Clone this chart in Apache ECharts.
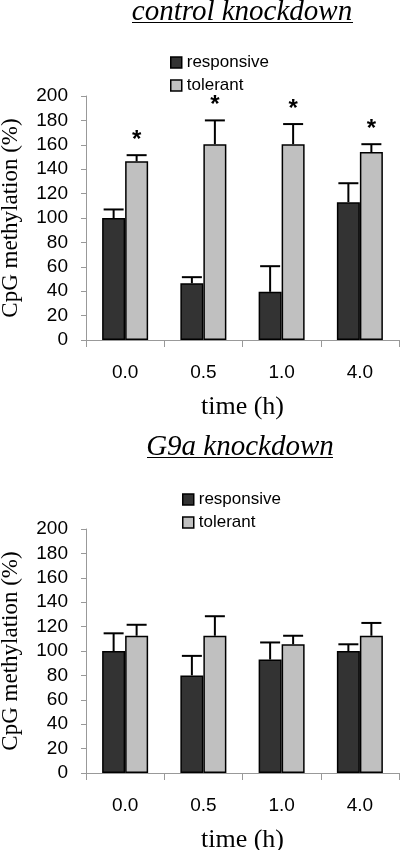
<!DOCTYPE html>
<html>
<head>
<meta charset="utf-8">
<script src="https://cdn.jsdelivr.net/npm/echarts@6/dist/echarts.min.js"></script>
<style>
html,body{margin:0;padding:0;background:#fff;}
#chart{width:400px;height:850px;}
</style>
</head>
<body>
<div id="chart"></div>
<script>
// ---- data ----
const categories = ['0.0', '0.5', '1.0', '4.0'];
const yTicks = [0, 200, 20]; // min, max, interval

const ctrlResponsive = [100, 46.5, 39.5, 113];
const ctrlResponsiveSD = [7, 5, 21, 15.5];
const ctrlTolerant = [146.5, 160.5, 160.5, 154];
const ctrlTolerantSD = [5, 19.5, 16.5, 6.5];
const ctrlSignificant = [1, 1, 1, 1];

const g9aResponsive = [100, 80, 93, 100];
const g9aResponsiveSD = [14.5, 16, 14, 5.5];
const g9aTolerant = [112.5, 112.5, 105.5, 112.5];
const g9aTolerantSD = [9, 16, 7, 10.5];
const g9aSignificant = [0, 0, 0, 0];

const titles = ['control knockdown', 'G9a knockdown'];
const seriesNames = ['responsive', 'tolerant'];
const xTitle = 'time (h)';
const yTitle = 'CpG methylation (%)';

// ---- styles ----
const SANS = '"Liberation Sans", Arial, sans-serif';
const SERIF = '"Liberation Serif", "Times New Roman", serif';
const DARK = '#333333';
const LIGHT = '#c0c0c0';
const AXIS = '#999999';
const BAR_W = 23;

function errorSeries(gridIdx, vals, sds, sig, offset) {
  return {
    type: 'custom',
    xAxisIndex: gridIdx, yAxisIndex: gridIdx,
    z: 5,
    data: vals.map((v, i) => [i, v, sds[i], sig ? sig[i] : 0]),
    renderItem: function (params, api) {
      const i = api.value(0), v = api.value(1), sd = api.value(2), s = api.value(3);
      const b = api.coord([i, v]);
      const t = api.coord([i, v + sd]);
      const x = b[0] + offset;
      const children = [
        { type: 'line', shape: { x1: x, y1: b[1], x2: x, y2: t[1] }, style: { stroke: '#000', lineWidth: 2 } },
        { type: 'line', shape: { x1: x - 10, y1: t[1], x2: x + 10, y2: t[1] }, style: { stroke: '#000', lineWidth: 2 } }
      ];
      if (s) {
        children.push({ type: 'text', x: x, y: t[1] - 3, style: { text: '*', font: 'bold 24px ' + SANS, fill: '#000', align: 'center', verticalAlign: 'bottom' } });
      }
      return { type: 'group', children: children };
    }
  };
}

function barSeries(gridIdx, name, vals, color) {
  return {
    type: 'bar', name: name, xAxisIndex: gridIdx, yAxisIndex: gridIdx,
    data: vals, barWidth: BAR_W, barGap: '0%',
    itemStyle: { color: color, borderColor: '#000', borderWidth: 1.5 },
    emphasis: { disabled: true }
  };
}

const grids = [
  { left: 86, right: 1, top: 96, height: 244, containLabel: false, outerBoundsMode: 'none' },
  { left: 86, right: 1, top: 529, height: 244, containLabel: false, outerBoundsMode: 'none' }
];

function xAxis(gi) {
  return {
    type: 'category', gridIndex: gi, data: categories,
    axisLine: { lineStyle: { color: AXIS, width: 1 } },
    axisTick: { show: true, length: 7, lineStyle: { color: AXIS } },
    axisLabel: { color: '#000', fontSize: 19, fontFamily: SANS, margin: 23 },
    name: xTitle, nameLocation: 'middle', nameGap: 54,
    nameTextStyle: { color: '#000', fontSize: 26, fontFamily: SERIF }
  };
}
function yAxis(gi) {
  return {
    type: 'value', gridIndex: gi, min: yTicks[0], max: yTicks[1], interval: yTicks[2],
    axisLine: { show: true, lineStyle: { color: AXIS, width: 1 } },
    axisTick: { show: true, length: 5, lineStyle: { color: AXIS } },
    splitLine: { show: false },
    axisLabel: { color: '#000', fontSize: 19, fontFamily: SANS, margin: 18 },
    name: yTitle, nameLocation: 'middle', nameGap: 64,
    nameTextStyle: { color: '#000', fontSize: 23, fontFamily: SERIF }
  };
}

const legendCommon = {
  orient: 'vertical', itemWidth: 11, itemHeight: 11, itemGap: 6,
  icon: 'rect',
  itemStyle: { borderColor: '#000', borderWidth: 1.5 },
  textStyle: { color: '#000', fontSize: 17, fontFamily: SANS },
  selectedMode: false
};

const option = {
  animation: false,
  backgroundColor: '#fff',
  grid: grids,
  xAxis: [xAxis(0), xAxis(1)],
  yAxis: [yAxis(0), yAxis(1)],
  legend: [
    Object.assign({}, legendCommon, { left: 165, top: 49, data: seriesNames }),
    Object.assign({}, legendCommon, { left: 177, top: 486, data: seriesNames })
  ],
  graphic: [
    { type: 'text', x: 242, y: -2, style: { text: titles[0], font: 'italic 29px ' + SERIF, fill: '#000', align: 'center', verticalAlign: 'top' } },
    { type: 'line', shape: { x1: 132, y1: 22.5, x2: 353, y2: 22.5 }, style: { stroke: '#000', lineWidth: 1 } },
    { type: 'text', x: 240, y: 433, style: { text: titles[1], font: 'italic 29px ' + SERIF, fill: '#000', align: 'center', verticalAlign: 'top' } },
    { type: 'line', shape: { x1: 147, y1: 457.5, x2: 333, y2: 457.5 }, style: { stroke: '#000', lineWidth: 1 } }
  ],
  series: [
    barSeries(0, seriesNames[0], ctrlResponsive, DARK),
    barSeries(0, seriesNames[1], ctrlTolerant, LIGHT),
    errorSeries(0, ctrlResponsive, ctrlResponsiveSD, null, -BAR_W / 2),
    errorSeries(0, ctrlTolerant, ctrlTolerantSD, ctrlSignificant, BAR_W / 2),
    barSeries(1, seriesNames[0], g9aResponsive, DARK),
    barSeries(1, seriesNames[1], g9aTolerant, LIGHT),
    errorSeries(1, g9aResponsive, g9aResponsiveSD, null, -BAR_W / 2),
    errorSeries(1, g9aTolerant, g9aTolerantSD, g9aSignificant, BAR_W / 2)
  ]
};

const chart = echarts.init(document.getElementById('chart'), null, { renderer: 'canvas' });
chart.setOption(option);
</script>
</body>
</html>
